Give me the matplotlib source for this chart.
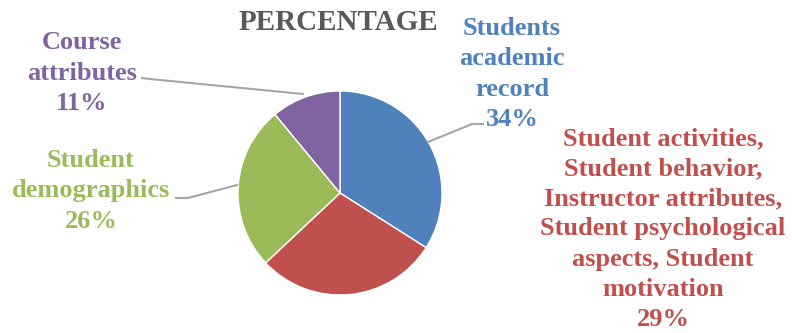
import matplotlib.pyplot as plt

# data
labels = ['Students\nacademic\nrecord', 'Student activities,\nStudent behavior,\nInstructor attributes,\nStudent psychological\naspects, Student\nmotivation', 'Student\ndemographics', 'Course\nattributes']
values = [34, 29, 26, 11]
colors = ['#4F81BD', '#C0504D', '#9BBB59', '#8064A2']

W, H = 793, 333
fig = plt.figure(figsize=(W / 100, H / 100), dpi=100)
ax = fig.add_axes([0, 0, 1, 1])
ax.set_xlim(0, W)
ax.set_ylim(0, H)
ax.set_aspect('equal')
ax.axis('off')

def py(y):
    # pixel row from top -> data y
    return H - y

ax.pie(values, colors=colors, startangle=90, counterclock=False,
       center=(340, py(193)), radius=102,
       wedgeprops=dict(edgecolor='white', linewidth=1))
ax.set_xlim(0, W)
ax.set_ylim(0, H)

font = dict(family=['Liberation Serif', 'DejaVu Serif'], weight='bold', fontsize=19)

ax.text(338, py(23), 'PERCENTAGE', color='#595959', ha='center', va='center',
        family=['Liberation Serif', 'DejaVu Serif'], weight='bold', fontsize=21)

# label positions (pixels)
label_pos = [(512, 74), (663, 229), (91, 191), (82, 73)]
for lab, v, c, (x, y) in zip(labels, values, colors, label_pos):
    ax.text(x, py(y), f'{lab}\n{v}%', color=c, ha='center', va='center',
            linespacing=1.4, **font)

# leader lines
leaders = [
    [(428, 142), (472, 124), (483, 124)],
    [(237, 185), (188, 198), (176, 198)],
    [(303, 94), (150, 79), (142, 78)],
]
for pts in leaders:
    ax.plot([p[0] for p in pts], [py(p[1]) for p in pts], color='#A6A6A6', lw=1.5)

fig.savefig('out.png', dpi=100)
